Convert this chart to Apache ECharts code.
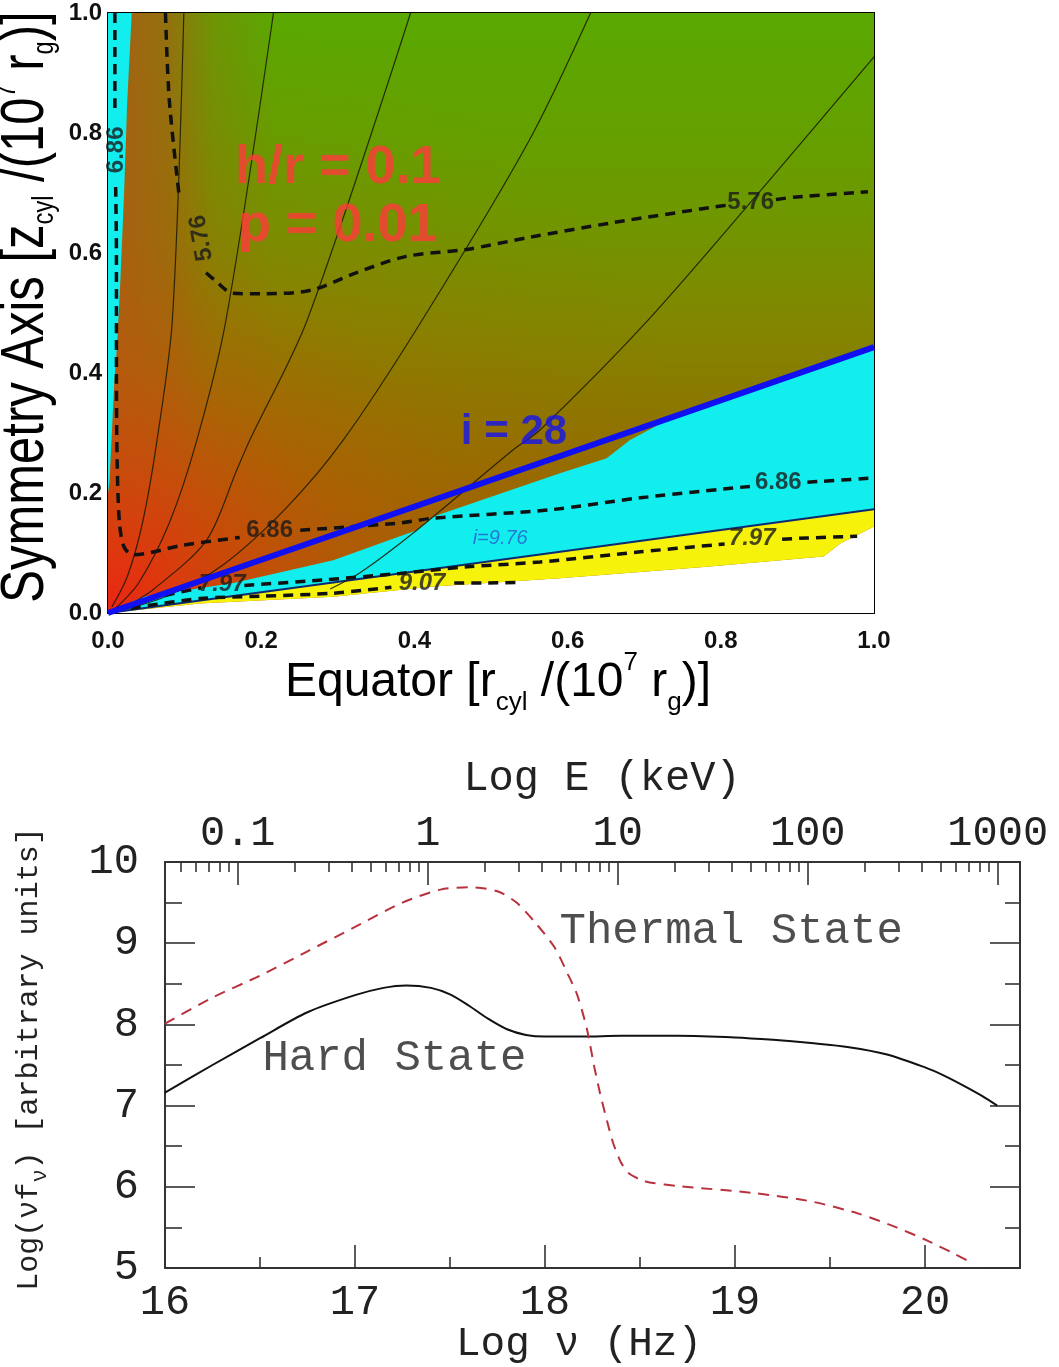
<!DOCTYPE html>
<html><head><meta charset="utf-8">
<script src="https://cdn.jsdelivr.net/npm/echarts@6/dist/echarts.min.js"></script>
<style>html,body{margin:0;padding:0;background:#fff}#c{width:1059px;height:1367px}</style>
</head><body><div id="c"></div>
<script>
// ================= TOP PANEL DATA (units of 10^7 r_g) =================
const GAP = ['-', '-'];   // break in a dashed contour where its label sits
const rTicks = [0, 0.2, 0.4, 0.6, 0.8, 1.0];
const incl28Line = [[0, 0], [1, 0.443]];
const diskSurface = [[0, 0], [1, 0.173]];
const cyanWedgeTop = [[0,0],[0.046,0.027],[0.164,0.05],[0.294,0.088],[0.403,0.138],[0.425,0.161],[0.59,0.233],[0.651,0.258],[0.681,0.288],[0.738,0.327],[1,0.443]];
const yellowBottom = [[0,0],[0.12,0.016],[0.294,0.027],[0.425,0.044],[0.59,0.058],[0.782,0.077],[0.934,0.094],[0.956,0.116],[1,0.144]];
const cyanStrip = [[0,1],[0.031,1],[0.025,0.85],[0.021,0.7],[0.016,0.55],[0.012,0.45],[0.008,0.38],[0.005,0.3],[0.002,0.22],[0,0.2]];
const contour576 = [[0.075,1.0],[0.08,0.855],[0.093,0.694],GAP,[0.128,0.567],[0.139,0.555],[0.163,0.533],[0.203,0.532],[0.265,0.538],[0.322,0.566],[0.388,0.594],[0.468,0.606],[0.55,0.626],[0.661,0.651],[0.793,0.677],[0.81,0.68],GAP,[0.872,0.689],[0.895,0.693],[0.992,0.702]];
const contour686 = [[0.009,1.0],[0.009,0.84],GAP,[0.01,0.71],[0.011,0.6],[0.011,0.4],[0.012,0.25],[0.015,0.15],[0.021,0.11],[0.033,0.097],[0.098,0.113],[0.172,0.126],GAP,[0.251,0.138],[0.381,0.15],[0.424,0.158],[0.577,0.172],[0.695,0.192],[0.838,0.211],GAP,[0.913,0.218],[0.999,0.225]];
const contour797 = [[0.01,0.006],[0.06,0.025],[0.122,0.042],GAP,[0.178,0.046],[0.28,0.055],[0.381,0.066],[0.469,0.077],[0.564,0.085],[0.695,0.102],[0.805,0.115],GAP,[0.88,0.123],[0.913,0.125],[0.978,0.128]];
const contour907 = [[0.03,0.008],[0.12,0.024],[0.2,0.028],[0.294,0.033],[0.37,0.043],GAP,[0.452,0.05],[0.49,0.05],[0.534,0.051]];
const fieldLineA = [[0.005,0.01],[0.025,0.06],[0.045,0.15],[0.064,0.288],[0.084,0.488],[0.099,1.0]];
const fieldLineB = [[0.01,0.008],[0.04,0.05],[0.08,0.15],[0.116,0.288],[0.154,0.488],[0.216,1.0]];
const fieldLineC = [[0.02,0.008],[0.06,0.04],[0.129,0.122],[0.168,0.238],[0.185,0.288],[0.26,0.488],[0.395,1.0]];
const fieldLineD = [[0.02,0.005],[0.08,0.03],[0.15,0.08],[0.234,0.177],[0.307,0.288],[0.41,0.488],[0.55,0.788],[0.63,1.0]];
const fieldLineE = [[0.29,0.04],[0.329,0.067],[0.403,0.138],[0.529,0.272],[0.564,0.305],[0.705,0.488],[0.86,0.716],[1.0,0.927]];
const contourLabelText = ['6.86','6.86','5.76','5.76','6.86','7.97','7.97','9.07'];
const contourLabelX    = [0.211, 0.875, 0.839, 0.122, 0.011, 0.841, 0.149, 0.41];
const contourLabelY    = [0.138, 0.217, 0.685, 0.625, 0.772, 0.125, 0.047, 0.05];
const contourLabelRot  = [0, 0, 0, 100, 90, 0, 0, 0];

// ================= BOTTOM PANEL DATA =================
const LOG_HZ_PER_KEV = 17.383;           // log10(1 keV / h)
const logNuTicks = [16, 17, 18, 19, 20];
const logNuMinorTicks = [16.5, 17.5, 18.5, 19.5];
const fluxMinorTicks = [5.5, 6.5, 7.5, 8.5, 9.5];
const eMajorTicks = [0.1, 1, 10, 100, 1000];
const eMajorLabels = ['0.1', '1', '10', '100', '1000'];
const eMinorTicks = [0.05,0.06,0.07,0.08,0.09, 0.2,0.3,0.4,0.5,0.6,0.7,0.8,0.9, 2,3,4,5,6,7,8,9, 20,30,40,50,60,70,80,90, 200,300,400,500,600,700,800,900];
const hardLogNu = [16, 16.25, 16.5, 16.75, 17.0, 17.15, 17.27, 17.4, 17.5, 17.6, 17.7, 17.8, 17.9, 18.0, 18.2, 18.4, 18.7, 19.0, 19.2, 19.4, 19.6, 19.8, 20.0, 20.1, 20.2, 20.3, 20.38];
const hardFlux  = [7.16, 7.5, 7.83, 8.15, 8.36, 8.45, 8.48, 8.45, 8.37, 8.23, 8.07, 7.94, 7.87, 7.85, 7.85, 7.86, 7.86, 7.84, 7.81, 7.77, 7.72, 7.63, 7.47, 7.37, 7.25, 7.12, 7.0];
const thermalLogNu = [16, 16.25, 16.5, 16.75, 17.0, 17.25, 17.45, 17.6, 17.75, 17.85, 17.95, 18.05, 18.12, 18.17, 18.22, 18.26, 18.29, 18.33, 18.36, 18.4, 18.44, 18.5, 18.56, 18.7, 19.11, 19.4, 19.65, 19.85, 20.01, 20.15, 20.25];
const thermalFlux  = [8.01, 8.33, 8.6, 8.9, 9.2, 9.5, 9.66, 9.69, 9.64, 9.5, 9.25, 8.95, 8.62, 8.36, 7.95, 7.47, 7.15, 6.78, 6.53, 6.3, 6.17, 6.09, 6.05, 6.01, 5.92, 5.82, 5.67, 5.5, 5.34, 5.18, 5.06];

// ================= STYLE CONSTANTS =================
const SANS = '"Liberation Sans", Arial, sans-serif';
const MONO = '"Liberation Mono", "Courier New", monospace';
const toLogNu = e => Math.log10(e) + LOG_HZ_PER_KEV;
const eMajorPos = eMajorTicks.map(toLogNu);
const eMinorPos = eMinorTicks.map(toLogNu);
const pairs = (xs, ys) => xs.map((x, i) => [x, ys[i]]);

const chart = echarts.init(document.getElementById('c'), null, {renderer: 'canvas', width: 1059, height: 1367});

function polygonSeries(name, pts, fill, z) {
  return {
    name, type: 'custom', xAxisIndex: 0, yAxisIndex: 0, z, silent: true,
    data: pts, encode: {x: 0, y: 1},
    renderItem(params, api) {
      if (params.dataIndex !== 0) return {type: 'group', children: []};
      return {type: 'polygon', shape: {points: pts.map(p => api.coord(p))}, style: {fill}};
    }
  };
}
function lineSeries(name, pts, lineStyle, z, smooth, xi, yi) {
  return {name, type: 'line', xAxisIndex: xi || 0, yAxisIndex: yi || 0, z, data: pts,
    showSymbol: false, symbol: 'none', smooth: smooth, silent: true, lineStyle, clip: true, connectNulls: false};
}
function labelSeries(name, items, z, xi, yi) {
  return {name, type: 'scatter', xAxisIndex: xi || 0, yAxisIndex: yi || 0, z, silent: true,
    symbolSize: 1, itemStyle: {color: 'rgba(0,0,0,0)'},
    data: items.map(it => ({value: [it.x, it.y], label: Object.assign({show: true, formatter: it.text}, it.label)}))};
}

const bgSeries = {
  name: 'bg', type: 'custom', xAxisIndex: 0, yAxisIndex: 0, z: 1, silent: true,
  data: [[rTicks[0], rTicks[0]], [rTicks[5], rTicks[5]]], encode: {x: 0, y: 1},
  renderItem(params, api) {
    if (params.dataIndex !== 0) return {type: 'group', children: []};
    const tl = api.coord([rTicks[0], rTicks[5]]);
    const br = api.coord([rTicks[5], rTicks[0]]);
    const o = api.coord([rTicks[0], rTicks[0]]);
    const shape = {x: tl[0], y: tl[1], width: br[0] - tl[0], height: br[1] - tl[1]};
    return {type: 'group', children: [
      {type: 'rect', shape, style: {fill: {type: 'linear', x: 0, y: 0, x2: 0, y2: 1, colorStops: [
        {offset: 0, color: 'rgb(90,168,2)'}, {offset: 0.2, color: 'rgb(100,160,0)'},
        {offset: 0.35, color: 'rgb(112,150,0)'}, {offset: 0.5, color: 'rgb(128,136,0)'},
        {offset: 0.65, color: 'rgb(140,120,0)'}, {offset: 0.8, color: 'rgb(152,104,0)'},
        {offset: 1, color: 'rgb(165,88,5)'}]}}},
      {type: 'rect', shape, style: {fill: {type: 'linear', x: 0, y: 0, x2: 1, y2: 0, colorStops: [
        {offset: 0, color: 'rgba(172,90,22,0.95)'}, {offset: 0.08, color: 'rgba(165,96,18,0.75)'},
        {offset: 0.14, color: 'rgba(150,110,10,0.3)'}, {offset: 0.22, color: 'rgba(150,110,10,0)'},
        {offset: 1, color: 'rgba(150,110,10,0)'}]}}},
      {type: 'rect', shape, style: {fill: {type: 'radial', x: o[0], y: o[1], r: 620, global: true, colorStops: [
        {offset: 0, color: 'rgba(235,35,20,1)'}, {offset: 0.08, color: 'rgba(228,50,15,0.95)'},
        {offset: 0.22, color: 'rgba(212,68,10,0.78)'}, {offset: 0.4, color: 'rgba(195,85,8,0.45)'},
        {offset: 0.6, color: 'rgba(180,95,5,0.18)'}, {offset: 0.85, color: 'rgba(170,100,5,0.04)'},
        {offset: 1, color: 'rgba(170,100,5,0)'}]}}}
    ]};
  }
};

const contourStyle = {color: '#111', width: 3.5, type: [10, 7]};
const fieldStyle = {color: 'rgba(25,25,0,0.85)', width: 1.2};
const cLabelStyle = {fontFamily: SANS, fontWeight: 'bold', fontSize: 24, color: '#1a1a1a', position: 'inside'};

const topAxisCommon = {
  type: 'value', min: rTicks[0], max: rTicks[5], interval: 0.2,
  axisLine: {show: true, onZero: false, lineStyle: {color: '#000', width: 2}},
  axisTick: {show: true, inside: true, length: 13, lineStyle: {color: '#000', width: 1.5}},
  minorTick: {show: true, splitNumber: 4, length: 8, lineStyle: {color: '#000', width: 1.2}},
  splitLine: {show: false}, minorSplitLine: {show: false}
};
const topLabel = {fontFamily: SANS, fontWeight: 'bold', fontSize: 24, color: '#111', formatter: v => v.toFixed(1)};

const monoLabel = {fontFamily: MONO, fontSize: 42, color: '#222'};
const bAxisLine = {show: true, onZero: false, lineStyle: {color: '#333', width: 2}};
const bTick = (len, vals) => ({show: true, inside: true, length: len, customValues: vals, lineStyle: {color: '#333', width: 1.6}});
const bBase = {type: 'value', splitLine: {show: false}};
const gridB = {left: 165, top: 862, width: 855, height: 406};

const yTitleRich = {
  m: {fontSize: 62, fontFamily: SANS, lineHeight: 68, fill: '#000'},
  s: {fontSize: 30, fontFamily: SANS, lineHeight: 30, verticalAlign: 'bottom', fill: '#000'},
  p: {fontSize: 30, fontFamily: SANS, lineHeight: 44, verticalAlign: 'top', fill: '#000'}
};

const option = {
  animation: false,
  backgroundColor: '#fff',
  grid: [
    {left: 108, top: 13, width: 766, height: 600},
    Object.assign({}, gridB),
    Object.assign({}, gridB)
  ],
  xAxis: [
    Object.assign({}, topAxisCommon, {gridIndex: 0, position: 'bottom', axisLabel: Object.assign({margin: 16}, topLabel)}),
    Object.assign({}, topAxisCommon, {gridIndex: 0, position: 'top', axisLabel: {show: false}}),
    Object.assign({}, bBase, {gridIndex: 1, position: 'bottom', min: 16, max: 20.5, axisLine: bAxisLine,
      axisTick: bTick(23, logNuTicks), axisLabel: Object.assign({customValues: logNuTicks, margin: 14}, monoLabel)}),
    Object.assign({}, bBase, {gridIndex: 1, position: 'top', min: 16, max: 20.5, axisLine: bAxisLine,
      axisTick: bTick(23, eMajorPos), axisLabel: Object.assign({customValues: eMajorPos, margin: 7,
        formatter: v => { let k = 0, d = 1e9; eMajorPos.forEach((p, i) => { if (Math.abs(p - v) < d) { d = Math.abs(p - v); k = i; } }); return eMajorLabels[k]; }}, monoLabel)}),
    Object.assign({}, bBase, {gridIndex: 2, position: 'bottom', min: 16, max: 20.5, axisLine: {show: false},
      axisTick: bTick(11, logNuMinorTicks), axisLabel: {show: false}}),
    Object.assign({}, bBase, {gridIndex: 2, position: 'top', min: 16, max: 20.5, axisLine: {show: false},
      axisTick: bTick(10, eMinorPos), axisLabel: {show: false}})
  ],
  yAxis: [
    Object.assign({}, topAxisCommon, {gridIndex: 0, position: 'left', axisLabel: Object.assign({margin: 6}, topLabel)}),
    Object.assign({}, topAxisCommon, {gridIndex: 0, position: 'right', axisLabel: {show: false}}),
    Object.assign({}, bBase, {gridIndex: 1, position: 'left', min: 5, max: 10, interval: 1, axisLine: bAxisLine,
      axisTick: {show: true, inside: true, length: 30, lineStyle: {color: '#333', width: 1.6}},
      axisLabel: Object.assign({margin: 26}, monoLabel)}),
    Object.assign({}, bBase, {gridIndex: 1, position: 'right', min: 5, max: 10, interval: 1, axisLine: bAxisLine,
      axisTick: {show: true, inside: true, length: 30, lineStyle: {color: '#333', width: 1.6}},
      axisLabel: {show: false}}),
    Object.assign({}, bBase, {gridIndex: 2, position: 'left', min: 5, max: 10, axisLine: {show: false},
      axisTick: bTick(17, fluxMinorTicks), axisLabel: {show: false}}),
    Object.assign({}, bBase, {gridIndex: 2, position: 'right', min: 5, max: 10, axisLine: {show: false},
      axisTick: bTick(15, fluxMinorTicks), axisLabel: {show: false}})
  ],
  series: [
    bgSeries,
    polygonSeries('below disk', yellowBottom.concat([[rTicks[5], rTicks[0]], [rTicks[0], rTicks[0]]]), '#ffffff', 2),
    polygonSeries('cyan wedge', cyanWedgeTop.concat(diskSurface.slice().reverse()), '#12eeee', 2),
    polygonSeries('yellow band', diskSurface.concat(yellowBottom.slice().reverse()), '#f7f20a', 2),
    polygonSeries('cyan strip', cyanStrip, '#12eeee', 2),
    lineSeries('disk surface', diskSurface, {color: '#0c2a70', width: 2}, 3, false),
    lineSeries('field A', fieldLineA, fieldStyle, 3, 0.3),
    lineSeries('field B', fieldLineB, fieldStyle, 3, 0.3),
    lineSeries('field C', fieldLineC, fieldStyle, 3, 0.3),
    lineSeries('field D', fieldLineD, fieldStyle, 3, 0.3),
    lineSeries('field E', fieldLineE, fieldStyle, 3, 0.3),
    lineSeries('5.76', contour576, contourStyle, 4, 0.3),
    lineSeries('6.86', contour686, contourStyle, 4, 0.3),
    lineSeries('7.97', contour797, contourStyle, 4, 0.3),
    lineSeries('9.07', contour907, contourStyle, 4, 0.3),
    labelSeries('contour labels', contourLabelText.map((t, i) => ({text: t, x: contourLabelX[i], y: contourLabelY[i],
      label: Object.assign({}, cLabelStyle, {rotate: contourLabelRot[i], fontStyle: t === '7.97' || t === '9.07' ? 'italic' : 'normal'})})), 5),
    labelSeries('i label', [{text: 'i=9.76', x: 0.512, y: 0.125,
      label: {fontFamily: SANS, fontStyle: 'italic', fontSize: 20, color: '#2a5ad0', position: 'inside'}}], 5),
    lineSeries('i = 28', incl28Line, {color: '#1010f0', width: 6}, 6, false),
    labelSeries('annotations', [
      {text: 'h/r = 0.1', x: 0.3, y: 0.741, label: {fontFamily: SANS, fontWeight: 'bold', fontSize: 54, color: '#ff3a3a', position: 'inside'}},
      {text: 'p = 0.01', x: 0.3, y: 0.644, label: {fontFamily: SANS, fontWeight: 'bold', fontSize: 54, color: '#ff3a3a', position: 'inside'}},
      {text: 'i = 28', x: 0.53, y: 0.301, label: {fontFamily: SANS, fontWeight: 'bold', fontSize: 42, color: '#1414ee', position: 'inside'}}
    ], 7),
    // bottom panel
    lineSeries('Hard State', pairs(hardLogNu, hardFlux), {color: '#111', width: 2}, 3, 0.3, 2, 2),
    lineSeries('Thermal State', pairs(thermalLogNu, thermalFlux), {color: '#b8323e', width: 2, type: [11, 8]}, 3, 0.25, 2, 2),
    labelSeries('state labels', [
      {text: 'Thermal State', x: 18.074, y: 9.147, label: {fontFamily: MONO, fontSize: 44, color: '#222', position: 'right', distance: 0}},
      {text: 'Hard State', x: 16.51, y: 7.583, label: {fontFamily: MONO, fontSize: 44, color: '#222', position: 'right', distance: 0}}
    ], 5, 2, 2)
  ],
  graphic: [
    {type: 'text', x: 498, y: 683, silent: true, style: {
      text: '{m|Equator [r}{s|cyl}{m| /(10}{p|7}{m| r}{s|g}{m|)]}',
      align: 'center', verticalAlign: 'middle', textAlign: 'center', textVerticalAlign: 'middle',
      rich: {
        m: {fontSize: 48, fontFamily: SANS, lineHeight: 66, fill: '#000'},
        s: {fontSize: 26, fontFamily: SANS, lineHeight: 26, verticalAlign: 'bottom', fill: '#000'},
        p: {fontSize: 26, fontFamily: SANS, lineHeight: 36, verticalAlign: 'top', fill: '#000'}
      }}},
    {type: 'text', x: 26, y: 307, rotation: Math.PI / 2, scaleX: 0.79, silent: true, style: {
      text: '{m|Symmetry Axis [z}{s|cyl}{m| /(10}{p|7}{m| r}{s|g}{m|)]}',
      align: 'center', verticalAlign: 'middle', textAlign: 'center', textVerticalAlign: 'middle',
      rich: yTitleRich}},
    {type: 'text', x: 602, y: 779, silent: true, style: {text: 'Log E (keV)', fontFamily: MONO, fontSize: 42, fill: '#222',
      align: 'center', verticalAlign: 'middle', textAlign: 'center', textVerticalAlign: 'middle'}},
    {type: 'text', x: 579, y: 1344, silent: true, style: {text: 'Log ν (Hz)', fontFamily: MONO, fontSize: 41, fill: '#222',
      align: 'center', verticalAlign: 'middle', textAlign: 'center', textVerticalAlign: 'middle'}},
    {type: 'text', x: 29, y: 1059, rotation: Math.PI / 2, silent: true, style: {
      text: '{m|Log(νf}{s|ν}{m|) [arbitrary units]}',
      align: 'center', verticalAlign: 'middle', textAlign: 'center', textVerticalAlign: 'middle',
      rich: {
        m: {fontSize: 30, fontFamily: MONO, lineHeight: 44, fill: '#222'},
        s: {fontSize: 22, fontFamily: MONO, lineHeight: 22, verticalAlign: 'bottom', fill: '#222'}
      }}}
  ]
};
chart.setOption(option);
</script>
</body></html>
